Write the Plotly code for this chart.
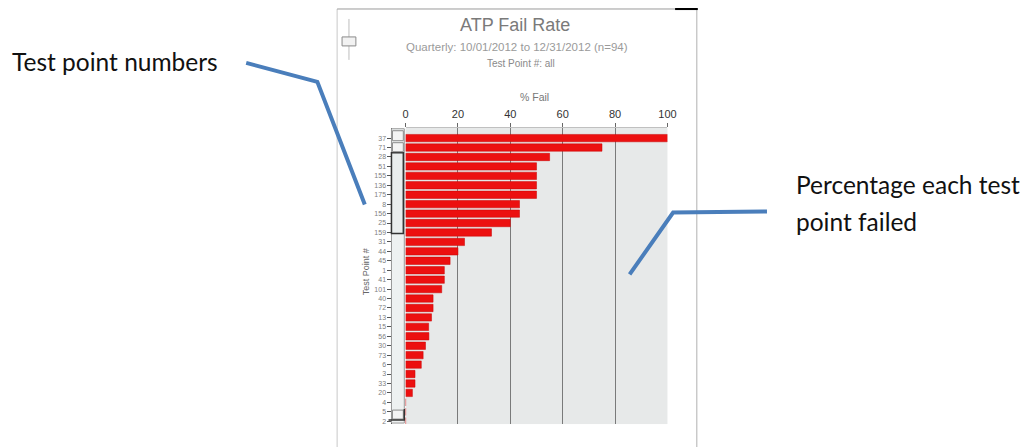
import plotly.graph_objects as go

# ---- data ----
test_points = ["37", "71", "28", "51", "155", "136", "175", "8", "156", "25", "159",
               "31", "44", "45", "1", "41", "101", "40", "72", "13", "15", "56",
               "30", "73", "6", "3", "33", "20", "4", "5", "2"]
fail_pct = [100, 75, 55, 50, 50, 50, 50, 43.5, 43.5, 40, 32.8,
            22.5, 20, 17, 14.8, 14.8, 13.8, 10.5, 10.5, 9.9, 8.8, 8.9,
            7.6, 6.7, 6, 3.6, 3.6, 2.6, 0, 0, 0]
x_ticks = [0, 20, 40, 60, 80, 100]

OFF = 8  # page body margin
W, H = 1034 - 2 * OFF, 448 - OFF


def px(x):
    return (x - OFF) / W


def py(y):
    return 1 - (y - OFF) / H


fig = go.Figure()
fig.add_trace(go.Bar(
    y=test_points, x=fail_pct, orientation="h",
    marker=dict(color="#ec1010", line=dict(color="#c80000", width=0.5)),
    width=0.78, hoverinfo="x+y",
))

shapes = []
line_grey = "#c8c8c8"
# frame
shapes.append(dict(type="line", xref="paper", yref="paper", x0=px(338), x1=px(338), y0=py(9), y1=py(448),
                   line=dict(color=line_grey, width=1)))
shapes.append(dict(type="line", xref="paper", yref="paper", x0=px(702), x1=px(702), y0=py(9), y1=py(448),
                   line=dict(color="#b0b0b0", width=1)))
shapes.append(dict(type="line", xref="paper", yref="paper", x0=px(338), x1=px(680), y0=py(9), y1=py(9),
                   line=dict(color="#9a9a9a", width=1)))
shapes.append(dict(type="line", xref="paper", yref="paper", x0=px(680), x1=px(703), y0=py(8.8), y1=py(8.8),
                   line=dict(color="#000000", width=2.5)))
# slider widget top-left
shapes.append(dict(type="line", xref="paper", yref="paper", x0=px(350), x1=px(350), y0=py(19), y1=py(60),
                   line=dict(color="#bdbdbd", width=1)))
shapes.append(dict(type="rect", xref="paper", yref="paper", x0=px(343), x1=px(357), y0=py(37), y1=py(46),
                   fillcolor="#f2f2f2", line=dict(color="#8a8a8a", width=1)))
# scrollbar
shapes.append(dict(type="rect", xref="paper", yref="paper", x0=px(393), x1=px(406), y0=py(129), y1=py(424),
                   fillcolor="#eef1f1", line=dict(color="#9a9a9a", width=1)))
shapes.append(dict(type="rect", xref="paper", yref="paper", x0=px(393), x1=px(405), y0=py(153), y1=py(234),
                   fillcolor="#e9eded", line=dict(color="#333333", width=1.5)))
shapes.append(dict(type="rect", xref="paper", yref="paper", x0=px(394), x1=px(405), y0=py(131), y1=py(141),
                   fillcolor="#f4f4f4", line=dict(color="#8a8a8a", width=1)))
shapes.append(dict(type="rect", xref="paper", yref="paper", x0=px(394), x1=px(405), y0=py(143), y1=py(152),
                   fillcolor="#f4f4f4", line=dict(color="#8a8a8a", width=1)))
shapes.append(dict(type="rect", xref="paper", yref="paper", x0=px(394), x1=px(405), y0=py(411), y1=py(420),
                   fillcolor="#f4f4f4", line=dict(color="#8a8a8a", width=1)))
shapes.append(dict(type="path", xref="paper", yref="paper",
                   path=f"M {px(390)},{py(421)} L {px(406)},{py(421)} L {px(406)},{py(410)}",
                   line=dict(color="#333333", width=1.5)))
# callout lines
blue = "#4a7ebb"
shapes.append(dict(type="path", xref="paper", yref="paper",
                   path=f"M {px(246)},{py(63)} L {px(318)},{py(82)} L {px(366)},{py(205)}",
                   line=dict(color=blue, width=4)))
shapes.append(dict(type="path", xref="paper", yref="paper",
                   path=f"M {px(634)},{py(275)} L {px(678)},{py(213)} L {px(773)},{py(212)}",
                   line=dict(color=blue, width=4)))


def note(text, x, y, size, color, family="Liberation Sans", xanchor="center", angle=0):
    return dict(text=text, x=px(x), y=py(y), xref="paper", yref="paper", showarrow=False,
                xanchor=xanchor, yanchor="middle", textangle=angle,
                font=dict(family=family, size=size, color=color))


annotations = [
    note("ATP Fail Rate", 518, 25, 18, "#7a7a7a"),
    note("Quarterly: 10/01/2012 to 12/31/2012 (n=94)", 520, 47, 11.5, "#9a9a9a"),
    note("Test Point #: all", 524, 64, 10, "#8a8a8a"),
    note("% Fail", 538, 97, 10.5, "#777777"),
    note("Test Point #", 368, 272, 9, "#666666", angle=-90),
    note("Test point numbers", 7, 62, 24.5, "#111111", family="Lato", xanchor="left"),
    note("Percentage each test", 800, 185, 24.5, "#111111", family="Lato", xanchor="left"),
    note("point failed", 800, 222, 24.5, "#111111", family="Lato", xanchor="left"),
]

fig.update_layout(
    width=W, height=H, autosize=False,
    margin=dict(l=0, r=0, t=0, b=0),
    paper_bgcolor="white", plot_bgcolor="#e7e9e9",
    showlegend=False, bargap=0.2,
    shapes=shapes, annotations=annotations,
    xaxis=dict(domain=[px(407.3), px(672.3)], range=[0, 100], side="top",
               tickvals=x_ticks, ticks="outside", ticklen=4, tickcolor="#666",
               showgrid=True, gridcolor="#7a7a7a", gridwidth=1, zeroline=False,
               showline=True, linecolor="#c0c0c0",
               tickfont=dict(family="Liberation Sans", size=11, color="#333333")),
    yaxis=dict(domain=[py(425), py(128)], range=[30.3, -1.1], type="category",
               anchor="free", position=px(393),
               categoryorder="array", categoryarray=test_points,
               ticks="outside", ticklen=4, tickcolor="#555", showgrid=False,
               showline=True, linecolor="#444",
               tickfont=dict(family="Liberation Sans", size=7, color="#808080")),
)

fig.write_html("out.html")
